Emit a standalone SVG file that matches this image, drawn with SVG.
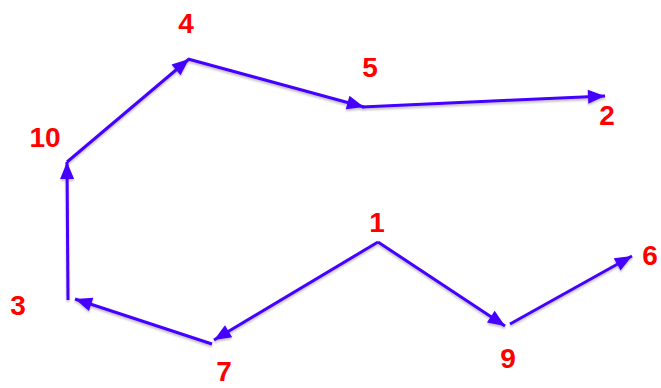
<svg xmlns="http://www.w3.org/2000/svg" width="661" height="388" viewBox="0 0 661 388">
  <style>
    .lbl { font-family: "Liberation Sans", Arial, sans-serif; font-weight: bold; font-size: 28px; fill: #ff0000; text-anchor: middle; }
    .edge { stroke: #4400ff; stroke-width: 3; fill: none; stroke-linecap: butt; marker-end: url(#arr); }
  </style>
  <defs>
    <marker id="arr" markerUnits="userSpaceOnUse" markerWidth="18" markerHeight="15" refX="17" refY="7" orient="auto" overflow="visible">
      <path d="M0,0 L17,7 L0,14 Z" fill="#4400ff"/>
    </marker>
    <filter id="sh" filterUnits="userSpaceOnUse" x="0" y="0" width="661" height="388">
      <feGaussianBlur in="SourceAlpha" stdDeviation="1.2"/>
      <feOffset dx="0" dy="1.5" result="b"/>
      <feComponentTransfer><feFuncA type="linear" slope="0.25"/></feComponentTransfer>
      <feMerge><feMergeNode/><feMergeNode in="SourceGraphic"/></feMerge>
    </filter>
  </defs>
  <g id="connectors" filter="url(#sh)">
    <line class="edge" x1="378" y1="242" x2="214" y2="340"/>
    <line class="edge" x1="212" y1="344" x2="75" y2="299"/>
    <line class="edge" x1="68" y1="300" x2="67" y2="162"/>
    <line class="edge" x1="67" y1="162" x2="189" y2="59"/>
    <line class="edge" x1="188" y1="59" x2="364" y2="107"/>
    <line class="edge" x1="362" y1="107" x2="605" y2="96"/>
    <line class="edge" x1="378" y1="242" x2="505" y2="326"/>
    <line class="edge" x1="510" y1="324" x2="632" y2="256"/>
  </g>
  <g id="node-1"><text class="lbl" x="377" y="232">1</text></g>
  <g id="node-2"><text class="lbl" x="607" y="125">2</text></g>
  <g id="node-3"><text class="lbl" x="18" y="315">3</text></g>
  <g id="node-4"><text class="lbl" x="186" y="33">4</text></g>
  <g id="node-5"><text class="lbl" x="370" y="77">5</text></g>
  <g id="node-6"><text class="lbl" x="650" y="265">6</text></g>
  <g id="node-7"><text class="lbl" x="224" y="381">7</text></g>
  <g id="node-9"><text class="lbl" x="508" y="368">9</text></g>
  <g id="node-10"><text class="lbl" x="45" y="147">10</text></g>
</svg>
